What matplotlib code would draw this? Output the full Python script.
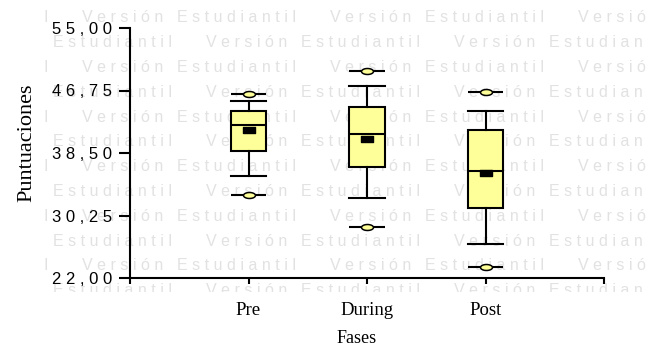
import numpy as np
import matplotlib
matplotlib.use('Agg')
import matplotlib.pyplot as plt
from matplotlib.path import Path

# valores (Puntuaciones por fase)
fases = ['Pre', 'During', 'Post']
minimos = [32.9, 28.7, 23.5]
bigote_inf = [35.5, 32.5, 26.5]
q1 = [38.8, 36.7, 31.3]
medianas = [42.2, 41.0, 36.1]
q3 = [44.1, 44.6, 41.5]
bigote_sup = [45.4, 47.3, 44.1]
maximos = [46.3, 49.3, 46.5]
medias = [41.6, 40.4, 35.9]

yticks = [22.00, 30.25, 38.50, 46.75, 55.00]
marca = ['Versión', 'Estudiantil']

amarillo = '#ffff99'
W, H = 646, 347

fig = plt.figure(figsize=(W / 100, H / 100), dpi=100)

# marca de agua de fondo
bg = fig.add_axes([44 / W, (H - 292) / H, (W - 44) / W, (292 - 4) / H])
bg.set_xlim(44, W)
bg.set_ylim(292, 4)
bg.axis('off')
for k in range(12):
    yb = 22.5 + 24.8 * k
    corr = 0 if k % 2 == 0 else -124
    for m in range(-1, 4):
        x0 = 82 + 248 * m + corr
        bg.text(x0, yb, ' '.join(marca[0]), fontsize=11.5, family='Liberation Sans',
                color='#e2e2e2', va='baseline', clip_on=True)
        bg.text(x0 + 95, yb, ' '.join(marca[1]), fontsize=11.5, family='Liberation Sans',
                color='#e2e2e2', va='baseline', clip_on=True)

ax = fig.add_axes([130 / W, (H - 278) / H, 474 / W, 250 / H])
ax.set_facecolor('none')

pos = np.arange(1, len(fases) + 1)
stats = []
for i, f in enumerate(fases):
    stats.append(dict(label=f, whislo=bigote_inf[i], q1=q1[i], med=medianas[i],
                      q3=q3[i], whishi=bigote_sup[i], fliers=[]))

lw = 1.5
ax.bxp(stats, positions=pos, widths=0.3, capwidths=0.3, patch_artist=True,
       showfliers=False, manage_ticks=False,
       boxprops=dict(facecolor=amarillo, edgecolor='black', linewidth=lw),
       whiskerprops=dict(color='black', linewidth=lw),
       capprops=dict(color='black', linewidth=lw),
       medianprops=dict(color='black', linewidth=lw))

t = np.linspace(0, 2 * np.pi, 60)
elipse = Path(np.column_stack([np.cos(t), 0.5 * np.sin(t)]), closed=True)
rect = Path([(-1, -0.55), (1, -0.55), (1, 0.55), (-1, 0.55), (-1, -0.55)], closed=True)

for vals in (minimos, maximos):
    ax.hlines(vals, pos - 0.15, pos + 0.15, color='black', linewidth=lw, zorder=3)
    ax.plot(pos, vals, ls='none', marker=elipse, ms=8.6, mfc=amarillo,
            mec='black', mew=1.1, zorder=4)
ax.plot(pos, medias, ls='none', marker=rect, ms=9, mfc='black', mec='black', zorder=4)

ax.set_xlim(0, 4)
ax.set_ylim(22, 55)
for s in ['top', 'right']:
    ax.spines[s].set_visible(False)
for s in ['left', 'bottom']:
    ax.spines[s].set_linewidth(lw)

ax.set_xticks([0, 1, 2, 3, 4])
ax.set_xticklabels([''] + fases + [''], fontsize=13.5, family='Liberation Serif')
ax.tick_params(axis='x', length=4.3, width=lw, pad=13)
ax.set_yticks(yticks)
ax.set_yticklabels([' '.join(f'{v:.2f}'.replace('.', ',')) for v in yticks],
                   fontsize=12, family='Liberation Sans')
ax.tick_params(axis='y', length=8, width=lw, pad=5)

ax.set_ylabel('Puntuaciones', fontsize=16, family='Liberation Serif')
ax.yaxis.set_label_coords(-0.197, 0.54)
ax.set_xlabel('Fases', fontsize=13, family='Liberation Serif')
ax.xaxis.set_label_coords(0.479, -0.208)

fig.savefig('out.png', dpi=100)
